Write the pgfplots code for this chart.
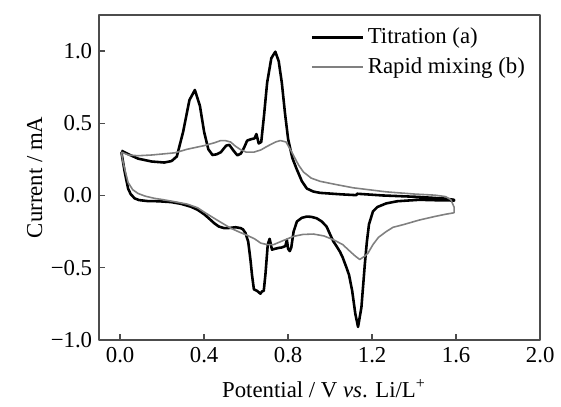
\documentclass[border=0pt]{standalone}
\usepackage{fontspec}
\setmainfont{Liberation Serif}
\usepackage{pgfplots}
\pgfplotsset{compat=1.18}
\begin{document}
\begin{tikzpicture}
\begin{axis}[
  scale only axis,
  width=222.5pt, height=164pt,
  xmin=-0.1, xmax=2.0, ymin=-1.0, ymax=1.25,
  xtick={0,0.4,0.8,1.2,1.6,2.0},
  xticklabels={0.0,0.4,0.8,1.2,1.6,2.0},
  ytick={-1,-0.5,0,0.5,1},
  yticklabels={−1.0,−0.5,0.0,0.5,1.0},
  tick align=inside,
  xtick pos=bottom, ytick pos=left,
  major tick length=3pt,
  axis line style={black!70, line width=0.7pt},
  tick style={black!70, line width=0.7pt},
  font=\fontsize{11.5}{13.5}\selectfont,
  ticklabel style={font=\fontsize{11.5}{13.5}\selectfont},
  xlabel={Potential / V \textit{vs}. Li/L\textsuperscript{+}},
  ylabel={Current / mA},
  xlabel style={at={(axis description cs:0.51,-0.149)}, anchor=center},
  ylabel style={at={(axis description cs:-0.146,0.5)}, anchor=center},
  legend style={draw=none, fill=none, at={(0.465,0.985)}, anchor=north west,
    font=\fontsize{11.5}{13.5}\selectfont, row sep=1.5pt},
  legend cell align=left,
  legend image code/.code={\draw[#1] (0cm,0cm) -- (0.9cm,0cm);},
  line join=round,
]
\addplot[black, line width=1.3pt] coordinates {
(0.006,0.31) (0.04,0.285) (0.085,0.255) (0.15,0.235) (0.21,0.228) (0.245,0.238)
(0.27,0.27) (0.30,0.44) (0.33,0.66) (0.356,0.73) (0.38,0.62) (0.40,0.44)
(0.42,0.32) (0.44,0.28) (0.46,0.285) (0.48,0.30) (0.505,0.345) (0.52,0.35)
(0.54,0.31) (0.558,0.278) (0.575,0.29) (0.59,0.33) (0.605,0.38) (0.625,0.39)
(0.64,0.395) (0.649,0.425) (0.66,0.36) (0.672,0.37) (0.685,0.55) (0.70,0.78)
(0.72,0.95) (0.739,0.995) (0.755,0.93) (0.77,0.78) (0.785,0.57) (0.80,0.39)
(0.82,0.26) (0.84,0.185) (0.865,0.1) (0.889,0.048) (0.92,0.027) (0.952,0.018)
(1.05,0.008) (1.125,0.002) (1.128,0.012) (1.25,0.0) (1.42,-0.01) (1.55,-0.022)
(1.59,-0.03) (1.59,-0.035) (1.5,-0.033) (1.425,-0.03) (1.32,-0.04) (1.267,-0.055)
(1.225,-0.08) (1.204,-0.11) (1.185,-0.20) (1.175,-0.32) (1.165,-0.48) (1.149,-0.774)
(1.133,-0.91) (1.12,-0.82) (1.105,-0.66) (1.09,-0.55) (1.078,-0.50) (1.06,-0.43)
(1.047,-0.39) (1.03,-0.35) (1.015,-0.317) (1.0,-0.27) (0.983,-0.215) (0.96,-0.18)
(0.936,-0.158) (0.91,-0.148) (0.889,-0.146) (0.865,-0.155) (0.842,-0.18) (0.826,-0.25)
(0.815,-0.36) (0.808,-0.385) (0.80,-0.37) (0.794,-0.306) (0.787,-0.35) (0.77,-0.36)
(0.755,-0.363) (0.735,-0.37) (0.723,-0.375) (0.712,-0.30) (0.703,-0.34) (0.692,-0.546)
(0.684,-0.66) (0.675,-0.665) (0.668,-0.68) (0.652,-0.66) (0.637,-0.65) (0.628,-0.55)
(0.621,-0.45) (0.61,-0.32) (0.597,-0.26) (0.585,-0.235) (0.574,-0.226) (0.55,-0.22)
(0.52,-0.225) (0.495,-0.226) (0.47,-0.215) (0.448,-0.192) (0.42,-0.155) (0.40,-0.13)
(0.37,-0.1) (0.337,-0.078) (0.29,-0.058) (0.243,-0.046) (0.18,-0.04) (0.132,-0.039)
(0.09,-0.032) (0.069,-0.02) (0.05,0.01) (0.038,0.048) (0.022,0.162) (0.006,0.30)
};
\addlegendentry{Titration (a)}
\addplot[black!50, line width=0.8pt] coordinates {
(0.006,0.30) (0.04,0.28) (0.085,0.275) (0.15,0.28) (0.26,0.295) (0.32,0.32)
(0.40,0.345) (0.45,0.365) (0.479,0.38) (0.50,0.38) (0.526,0.37) (0.55,0.34)
(0.574,0.317) (0.60,0.30) (0.637,0.30) (0.67,0.315) (0.70,0.34) (0.74,0.37)
(0.763,0.38) (0.79,0.37) (0.81,0.32) (0.826,0.276) (0.85,0.21) (0.873,0.162)
(0.91,0.12) (0.952,0.098) (1.03,0.075) (1.11,0.053) (1.267,0.025) (1.40,0.01)
(1.50,0.002) (1.55,-0.008) (1.575,-0.03) (1.59,-0.08) (1.59,-0.12) (1.55,-0.13)
(1.50,-0.145) (1.425,-0.17) (1.346,-0.203) (1.30,-0.22) (1.267,-0.25) (1.23,-0.29)
(1.204,-0.34) (1.18,-0.40) (1.165,-0.42) (1.141,-0.443) (1.12,-0.42) (1.094,-0.386)
(1.06,-0.34) (1.015,-0.306) (0.97,-0.28) (0.92,-0.267) (0.87,-0.27) (0.826,-0.283)
(0.78,-0.31) (0.731,-0.34) (0.70,-0.34) (0.67,-0.33) (0.64,-0.30) (0.605,-0.276)
(0.57,-0.255) (0.526,-0.226) (0.49,-0.195) (0.448,-0.158) (0.40,-0.115) (0.369,-0.085)
(0.32,-0.06) (0.258,-0.043) (0.20,-0.028) (0.164,-0.02) (0.12,-0.005) (0.085,0.014)
(0.06,0.04) (0.038,0.09) (0.014,0.23) (0.006,0.30)
};
\addlegendentry{Rapid mixing (b)}
\end{axis}
\path ([xshift=-50pt,yshift=-33.5pt]current axis.south west) rectangle ([xshift=8pt,yshift=7.5pt]current axis.north east);
\end{tikzpicture}
\end{document}
